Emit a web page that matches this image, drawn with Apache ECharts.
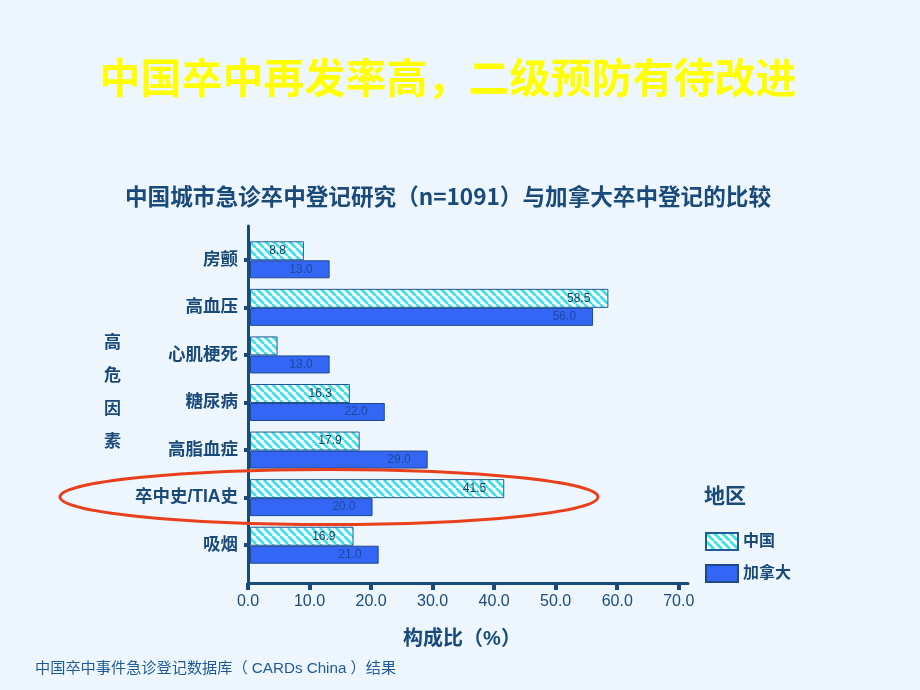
<!DOCTYPE html>
<html>
<head>
<meta charset="utf-8">
<script src="https://cdn.jsdelivr.net/npm/echarts@6/dist/echarts.min.js"></script>
<style>
html,body{margin:0;padding:0;background:#eef6fd;}
#c{width:920px;height:690px;}
</style>
</head>
<body>
<div id="c"></div>
<script>
const categories = ['房颤', '高血压', '心肌梗死', '糖尿病', '高脂血症', '卒中史/TIA史', '吸烟'];
const chinaValues = [8.8, 58.5, 4.5, 16.3, 17.9, 41.5, 16.9];
const canadaValues = [13.0, 56.0, 13.0, 22.0, 29.0, 20.0, 21.0];
const chinaLabels = ['8.8', '58.5', '', '16.3', '17.9', '41.5', '16.9'];
const xTicks = [0, 10, 20, 30, 40, 50, 60, 70];
const seriesNames = ['中国', '加拿大'];

const dark = '#1a4a7a';
const cjk = '"Liberation Sans", "Noto Sans CJK SC", sans-serif';

function makePattern() {
  const c = document.createElement('canvas');
  c.width = 8; c.height = 8;
  const g = c.getContext('2d');
  g.fillStyle = '#ffffff';
  g.fillRect(0, 0, 8, 8);
  g.strokeStyle = '#3fe0ea';
  g.lineWidth = 2.8;
  for (const o of [-8, 0, 8]) {
    g.beginPath();
    g.moveTo(o, 0);
    g.lineTo(o + 8, 8);
    g.stroke();
  }
  return c;
}

const chart = echarts.init(document.getElementById('c'), null, {renderer: 'canvas'});
const option = {
  backgroundColor: '#eef6fd',
  animation: false,
  title: [
    {text: '中国卒中再发率高，二级预防有待改进', left: 443, textAlign: 'center', top: 52,
     textStyle: {color: '#ffff00', fontSize: 41, fontWeight: 'bold', fontFamily: '"Noto Sans CJK SC", sans-serif'}},
    {text: '中国城市急诊卒中登记研究（n=1091）与加拿大卒中登记的比较', left: 443, textAlign: 'center', top: 180,
     textStyle: {color: dark, fontSize: 22.6, fontWeight: 'bold', fontFamily: '"Noto Sans CJK SC", sans-serif'}}
  ],
  legend: {
    data: seriesNames, orient: 'vertical', left: 700, top: 527,
    itemWidth: 32, itemHeight: 17, itemGap: 13, icon: 'rect',
    textStyle: {color: dark, fontSize: 16, fontWeight: 'bold', fontFamily: cjk}
  },
  grid: [
    {left: 250, top: 236, width: 438, height: 333},
    {left: 248, top: 226, width: 440, height: 357}
  ],
  xAxis: [
    {gridIndex: 0, type: 'value', min: 0, max: 71.5, show: false},
    {gridIndex: 1, type: 'value', min: 0, max: 71.5,
     axisLine: {show: true, lineStyle: {color: dark, width: 3}},
     axisTick: {show: true, customValues: xTicks, length: 7, lineStyle: {color: dark, width: 4}},
     axisLabel: {customValues: xTicks, margin: 11, color: dark, fontSize: 16, fontFamily: cjk,
                 formatter: v => v.toFixed(1)},
     splitLine: {show: false},
     name: '构成比（%）', nameLocation: 'middle', nameGap: 46,
     nameTextStyle: {color: dark, fontSize: 20, fontWeight: 'bold', fontFamily: cjk, padding: [0, 12, 0, 0]}}
  ],
  yAxis: [
    {gridIndex: 0, type: 'category', data: categories, inverse: true,
     axisLine: {show: false},
     axisTick: {show: true, alignWithLabel: true, length: 6, lineStyle: {color: dark, width: 4}},
     axisLabel: {margin: 12, color: dark, fontSize: 17.5, fontWeight: 'bold', fontFamily: cjk},
     splitLine: {show: false}},
    {gridIndex: 1, type: 'value', min: 0, max: 1,
     axisLine: {show: true, lineStyle: {color: dark, width: 3}},
     axisTick: {show: false}, axisLabel: {show: false}, splitLine: {show: false}}
  ],
  series: [
    {name: seriesNames[0], type: 'bar', xAxisIndex: 0, yAxisIndex: 0, data: chinaValues,
     barWidth: 19, barGap: '0%',
     itemStyle: {color: {image: makePattern(), repeat: 'repeat'}, borderColor: '#1f5a96', borderWidth: 1},
     label: {show: true, position: 'insideRight', offset: [-13, 0], color: '#1b3b5e', fontSize: 12,
             fontFamily: cjk, formatter: p => chinaLabels[p.dataIndex]}},
    {name: seriesNames[1], type: 'bar', xAxisIndex: 0, yAxisIndex: 0, data: canadaValues,
     barWidth: 18, barGap: '0%',
     itemStyle: {color: '#3366f5', borderColor: '#1e4a8a', borderWidth: 1},
     label: {show: true, position: 'insideRight', offset: [-12, 0], color: '#1f4a9a', fontSize: 12,
             fontFamily: cjk, formatter: p => p.value.toFixed(1)}}
  ],
  graphic: [
    {type: 'text', left: 104, top: 327,
     style: {text: '高\n危\n因\n素', fill: dark, fontSize: 17, fontWeight: 'bold', lineHeight: 33,
             fontFamily: cjk, align: 'center'}},
    {type: 'text', left: 704, top: 487,
     style: {text: '地区', fill: dark, fontSize: 21, fontWeight: 'bold', fontFamily: cjk}},
    {type: 'text', left: 35, top: 661,
     style: {text: '中国卒中事件急诊登记数据库（ CARDs China ）结果', fill: '#1f5a96', fontSize: 15.2, fontFamily: cjk}},
    {type: 'ellipse', shape: {cx: 329, cy: 497, rx: 269, ry: 27.5},
     style: {fill: 'none', stroke: '#e8401c', lineWidth: 3}, z: 100}
  ]
};
chart.setOption(option);
</script>
</body>
</html>
